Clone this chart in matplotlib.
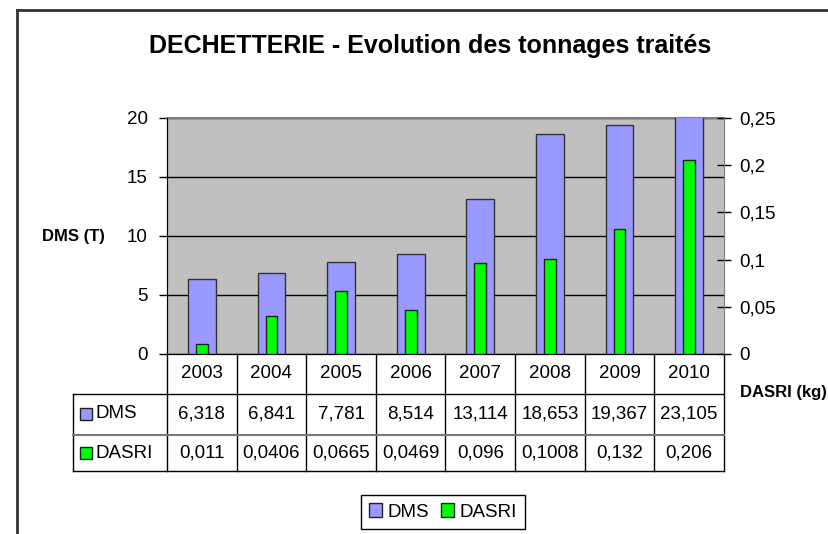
import numpy as np
import matplotlib.pyplot as plt
from matplotlib.lines import Line2D
from matplotlib.patches import Rectangle, Patch
from matplotlib.transforms import blended_transform_factory

years = ['2003', '2004', '2005', '2006', '2007', '2008', '2009', '2010']
dms = [6.318, 6.841, 7.781, 8.514, 13.114, 18.653, 19.367, 23.105]
dasri = [0.011, 0.0406, 0.0665, 0.0469, 0.096, 0.1008, 0.132, 0.206]
dms_ticks = [0, 5, 10, 15, 20]
dasri_ticks = [0, 0.05, 0.1, 0.15, 0.2, 0.25]

dms_color = '#9999FF'
dasri_color = '#00FF00'

W, H = 829, 534
plt.rcParams['font.family'] = ['Liberation Sans', 'DejaVu Sans']


def fx(px):
    return px / W


def fy(py):
    return 1 - py / H


def fr(v):
    return ('%g' % v).replace('.', ',')


fig = plt.figure(figsize=(W / 100, H / 100), dpi=100)

# chart frame (cut by the image edges)
fig.add_artist(Line2D([fx(17), fx(17)], [0, fy(10)], color='#333333', lw=2))
fig.add_artist(Line2D([fx(17), 1], [fy(10), fy(10)], color='#333333', lw=2))

ax = fig.add_axes([fx(167), fy(354), fx(724 - 167), (354 - 118) / H])
ax.set_facecolor('#C0C0C0')
x = np.arange(len(years))
ax.bar(x, dms, width=0.40, color=dms_color, edgecolor='#333333', lw=1, zorder=3)
ax.set_xlim(-0.5, len(years) - 0.5)
ax.set_ylim(0, 20)
ax.set_yticks(dms_ticks)
ax.set_yticklabels([str(t) for t in dms_ticks], fontsize=13.5)
ax.set_xticks([])
ax.yaxis.grid(True, color='black', lw=1)
ax.set_axisbelow(True)
ax.tick_params(axis='y', length=6, width=1, pad=8)
for s in ['left', 'bottom']:
    ax.spines[s].set_color('black')
ax.spines['top'].set_color('#808080')
ax.spines['top'].set_linewidth(1.5)
ax.spines['right'].set_color('#808080')

ax2 = ax.twinx()
ax2.bar(x, dasri, width=0.17, color=dasri_color, edgecolor='#222222', lw=1, zorder=4)
ax2.set_ylim(0, 0.25)
ax2.set_yticks(dasri_ticks)
ax2.set_yticklabels([fr(t) for t in dasri_ticks], fontsize=13.5)
ax2.tick_params(axis='y', direction='inout', length=10, width=1, pad=6)
ax2.spines['right'].set_color('#808080')
ax2.spines['top'].set_visible(False)

# data table under the chart
tr = blended_transform_factory(ax.transData, fig.transFigure)
tab_lines = dict(color='black', lw=1)
for i in range(len(years) + 1):
    fig.add_artist(Line2D([i - 0.5, i - 0.5], [fy(354), fy(471)], transform=tr, **tab_lines))
fig.add_artist(Line2D([fx(73), fx(73)], [fy(394), fy(471)], **tab_lines))
fig.add_artist(Line2D([fx(73), fx(724)], [fy(394), fy(394)], **tab_lines))
fig.add_artist(Line2D([fx(73), fx(724)], [fy(435), fy(435)], color='#777777', lw=1.5))
fig.add_artist(Line2D([fx(73), fx(724)], [fy(471), fy(471)], **tab_lines))

for i, yr in enumerate(years):
    fig.text(i, fy(374), yr, transform=tr, ha='center', va='center', fontsize=13.5)
    fig.text(i, fy(414), fr(dms[i]), transform=tr, ha='center', va='center', fontsize=13.5)
    fig.text(i, fy(453), fr(dasri[i]), transform=tr, ha='center', va='center', fontsize=13.5)

for row_y, name, col in [(414, 'DMS', dms_color), (453, 'DASRI', dasri_color)]:
    fig.add_artist(Rectangle((fx(80), fy(row_y + 6)), fx(12), 12 / H,
                             facecolor=col, edgecolor='#222222', lw=1))
    fig.text(fx(96), fy(row_y), name, ha='left', va='center', fontsize=13.5)

# axis titles
fig.text(fx(73), fy(237), 'DMS (T)', ha='center', va='center', fontsize=12,
         fontweight='bold')
fig.text(fx(783), fy(392), 'DASRI (kg)', ha='center', va='center', fontsize=12,
         fontweight='bold')

fig.text(fx(430), fy(46), 'DECHETTERIE - Evolution des tonnages traités',
         ha='center', va='center', fontsize=18, fontweight='bold')

handles = [Patch(facecolor=dms_color, edgecolor='#222222', label='DMS'),
           Patch(facecolor=dasri_color, edgecolor='#222222', label='DASRI')]
fig.legend(handles=handles, loc='center', bbox_to_anchor=(fx(443), fy(512)), ncol=2,
           fontsize=13.5, frameon=True, fancybox=False, edgecolor='black',
           framealpha=1, handlelength=0.7, handleheight=0.7, handletextpad=0.3,
           columnspacing=0.6, borderpad=0.45, borderaxespad=0)

fig.savefig('out.png', dpi=100)
